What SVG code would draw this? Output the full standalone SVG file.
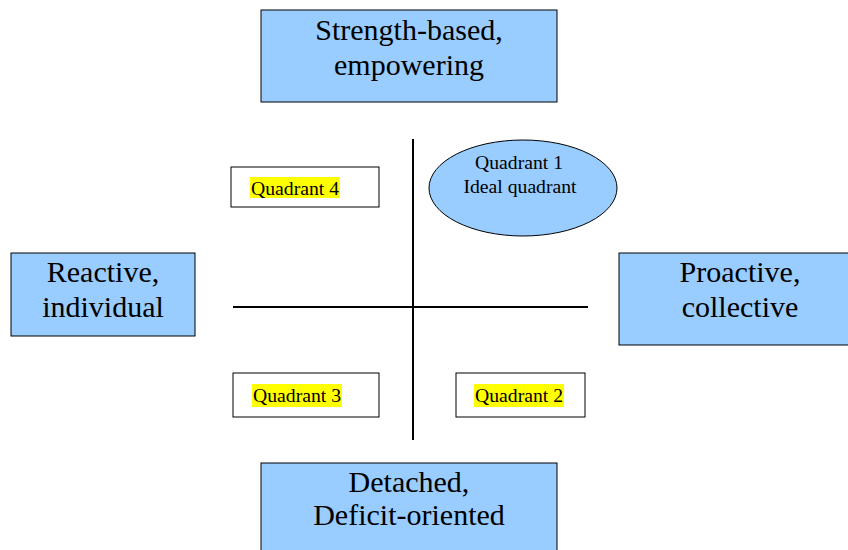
<svg xmlns="http://www.w3.org/2000/svg" width="848" height="550" viewBox="0 0 848 550">
<style>
.big{fill:#99CCFF;stroke:#000;stroke-width:1}
.q{fill:#fff;stroke:#000;stroke-width:1}
.bt{font-family:"Liberation Serif","Times New Roman",serif;font-size:30px;fill:#000;text-anchor:middle}
.st{font-family:"Liberation Serif","Times New Roman",serif;font-size:19.7px;fill:#000}
.hl{fill:#FFFF00}
.ax{stroke:#000;stroke-width:2}
</style>
<rect width="848" height="550" fill="#fff"/>
<g id="connectors">
<line class="ax" x1="413" y1="139" x2="413" y2="440"/>
<line class="ax" x1="233" y1="307" x2="588" y2="307"/>
</g>
<g id="top">
<rect class="big" x="261" y="10" width="296" height="92"/>
<text class="bt" x="409" y="40">Strength-based,</text>
<text class="bt" x="409" y="75">empowering</text>
</g>
<g id="left">
<rect class="big" x="11" y="253" width="184" height="83"/>
<text class="bt" x="103" y="282">Reactive,</text>
<text class="bt" x="103" y="317">individual</text>
</g>
<g id="right">
<rect class="big" x="619" y="253" width="240" height="92"/>
<text class="bt" x="740" y="282">Proactive,</text>
<text class="bt" x="740" y="317">collective</text>
</g>
<g id="bottom">
<rect class="big" x="261" y="463" width="296" height="100"/>
<text class="bt" x="409" y="492">Detached,</text>
<text class="bt" x="409" y="525">Deficit-oriented</text>
</g>
<g id="q1">
<ellipse class="big" cx="523" cy="188" rx="94" ry="48"/>
<text class="st" x="519" y="169" text-anchor="middle">Quadrant 1</text>
<text class="st" x="520" y="193" text-anchor="middle">Ideal quadrant</text>
</g>
<g id="q4">
<rect class="q" x="231" y="167" width="148" height="40"/>
<rect class="hl" x="250" y="177" width="90" height="21"/>
<text class="st" x="251" y="195">Quadrant 4</text>
</g>
<g id="q3">
<rect class="q" x="233" y="373" width="146" height="44"/>
<rect class="hl" x="252" y="384" width="90" height="23"/>
<text class="st" x="253" y="402">Quadrant 3</text>
</g>
<g id="q2">
<rect class="q" x="456" y="373" width="129" height="44"/>
<rect class="hl" x="474" y="384" width="90" height="23"/>
<text class="st" x="475" y="402">Quadrant 2</text>
</g>
</svg>
